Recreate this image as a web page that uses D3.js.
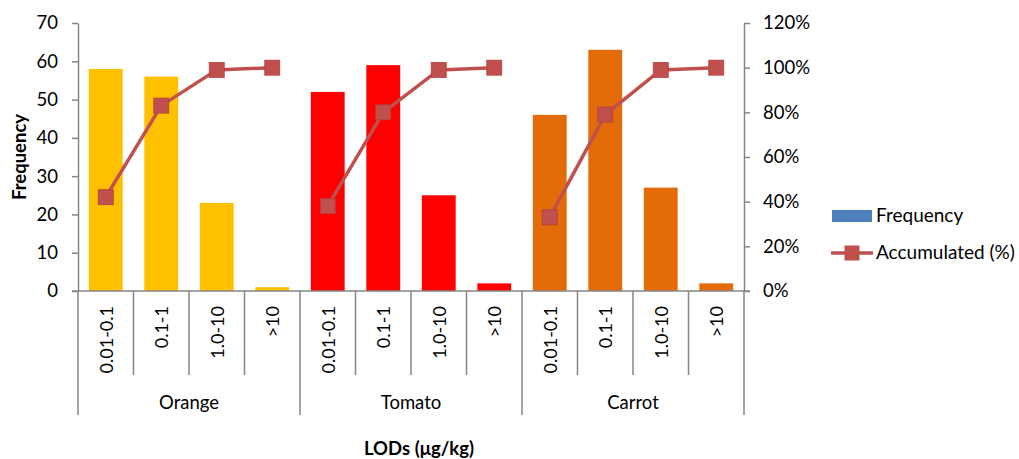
<!DOCTYPE html>
<html>
<head>
<meta charset="utf-8">
<script src="https://cdn.jsdelivr.net/npm/d3@7"></script>
<style>
  body { margin: 0; background: #fff; }
  text { font-family: Lato, "Open Sans", sans-serif; fill: #000; }
</style>
</head>
<body>
<svg id="chart" width="1019" height="459"></svg>
<script>
// LOD ranges and sample groups
const ranges = ["0.01-0.1", "0.1-1", "1.0-10", ">10"];
const groups = ["Orange", "Tomato", "Carrot"];
const groupColors = ["#FFC000", "#FF0000", "#E36C09"];

// Frequency counts per group, in range order
const freqOrange = [58, 56, 23, 1];
const freqTomato = [52, 59, 25, 2];
const freqCarrot = [46, 63, 27, 2];

// Accumulated percentage per group, in range order
const accOrange = [42, 83, 99, 100];
const accTomato = [38, 80, 99, 100];
const accCarrot = [33, 79, 99, 100];

const leftTicks = [0, 10, 20, 30, 40, 50, 60, 70];
const rightTicks = [0, 20, 40, 60, 80, 100, 120];

const freqs = [freqOrange, freqTomato, freqCarrot];
const accs = [accOrange, accTomato, accCarrot];

const rows = [];
groups.forEach((g, gi) => ranges.forEach((r, ri) => {
  rows.push({ key: g + "|" + r, group: g, gi, range: r, freq: freqs[gi][ri], acc: accs[gi][ri] });
}));

const svg = d3.select("#chart");
const plotLeft = 78, plotRight = 744, plotTop = 23, plotBottom = 291;
const axisColor = "#868686";
const fs = 18.5;

const x = d3.scaleBand().domain(rows.map(d => d.key)).range([plotLeft, plotRight]).paddingInner(0.39).paddingOuter(0.195);
const yL = d3.scaleLinear().domain([0, 70]).range([plotBottom, plotTop]);
const yR = d3.scaleLinear().domain([0, 120]).range([plotBottom, plotTop]);
const step = x.step();

// Bars
svg.append("g").selectAll("rect").data(rows).join("rect")
  .attr("x", d => x(d.key))
  .attr("y", d => yL(d.freq))
  .attr("width", x.bandwidth())
  .attr("height", d => yL(0) - yL(d.freq))
  .attr("fill", d => groupColors[d.gi]);

// Left axis
const gL = svg.append("g").attr("transform", `translate(${plotLeft},0)`)
  .call(d3.axisLeft(yL).tickValues(leftTicks).tickSize(6).tickPadding(14).tickSizeOuter(0));
gL.select(".domain").attr("stroke", axisColor).attr("stroke-width", 1.5);
gL.selectAll(".tick line").attr("stroke", axisColor).attr("stroke-width", 1.5);
gL.selectAll(".tick text").attr("font-size", fs).attr("font-family", "Lato");

// Right axis
const gR = svg.append("g").attr("transform", `translate(${plotRight},0)`)
  .call(d3.axisRight(yR).tickValues(rightTicks).tickFormat(d => d + "%").tickSize(6).tickPadding(13).tickSizeOuter(0));
gR.select(".domain").attr("stroke", axisColor).attr("stroke-width", 1.5);
gR.selectAll(".tick line").attr("stroke", axisColor).attr("stroke-width", 1.5);
gR.selectAll(".tick text").attr("font-size", fs).attr("font-family", "Lato");

// Category axis: baseline, dividers and labels
const cat = svg.append("g");
cat.append("line").attr("x1", plotLeft - 6).attr("x2", plotRight + 6).attr("y1", plotBottom).attr("y2", plotBottom)
  .attr("stroke", axisColor).attr("stroke-width", 1.5);
rows.forEach((d, i) => {
  const xb = plotLeft + i * step;
  const isGroupEdge = i % 4 === 0;
  cat.append("line").attr("x1", xb).attr("x2", xb).attr("y1", plotBottom).attr("y2", isGroupEdge ? 415 : 375)
    .attr("stroke", axisColor).attr("stroke-width", 1.5);
});
cat.append("line").attr("x1", plotRight).attr("x2", plotRight).attr("y1", plotBottom).attr("y2", 415)
  .attr("stroke", axisColor).attr("stroke-width", 1.5);

cat.selectAll("text.range").data(rows).join("text")
  .attr("class", "range")
  .attr("transform", d => `translate(${x(d.key) + x.bandwidth() / 2 + 7},${plotBottom + 15}) rotate(-90)`)
  .attr("text-anchor", "end")
  .attr("font-size", 18)
  .text(d => d.range);

cat.selectAll("text.group").data(groups).join("text")
  .attr("class", "group")
  .attr("x", (g, gi) => plotLeft + (gi * 4 + 2) * step)
  .attr("y", 409)
  .attr("text-anchor", "middle")
  .attr("font-size", fs)
  .text(g => g);

// Accumulated line, one segment per group
const line = d3.line().x(d => x(d.key) + x.bandwidth() / 2).y(d => yR(d.acc));
const lineColor = "#C0504D";
groups.forEach((g, gi) => {
  const pts = rows.filter(d => d.gi === gi);
  svg.append("path").datum(pts).attr("d", line)
    .attr("fill", "none").attr("stroke", lineColor).attr("stroke-width", 3.5);
  svg.append("g").selectAll("rect").data(pts).join("rect")
    .attr("x", d => x(d.key) + x.bandwidth() / 2 - 7.5)
    .attr("y", d => yR(d.acc) - 7.5)
    .attr("width", 15).attr("height", 15)
    .attr("fill", lineColor).attr("stroke", "#b3403d").attr("stroke-width", 0.8);
});

// Axis titles
svg.append("text")
  .attr("transform", `translate(26,157) rotate(-90)`)
  .attr("text-anchor", "middle")
  .attr("font-size", fs).attr("font-weight", "bold")
  .text("Frequency");
svg.append("text")
  .attr("x", 419).attr("y", 455)
  .attr("text-anchor", "middle")
  .attr("font-size", fs).attr("font-weight", "bold")
  .text("LODs (μg/kg)");

// Legend
const lg = svg.append("g");
lg.append("rect").attr("x", 832).attr("y", 210).attr("width", 40).attr("height", 12).attr("fill", "#4F81BD");
lg.append("text").attr("x", 876).attr("y", 222).attr("font-size", 19).text("Frequency");
lg.append("line").attr("x1", 831).attr("x2", 873).attr("y1", 253).attr("y2", 253)
  .attr("stroke", lineColor).attr("stroke-width", 3.5);
lg.append("rect").attr("x", 844.5).attr("y", 245.5).attr("width", 15).attr("height", 15).attr("fill", lineColor);
lg.append("text").attr("x", 876).attr("y", 259).attr("font-size", 19).text("Accumulated (%)");
</script>
</body>
</html>
